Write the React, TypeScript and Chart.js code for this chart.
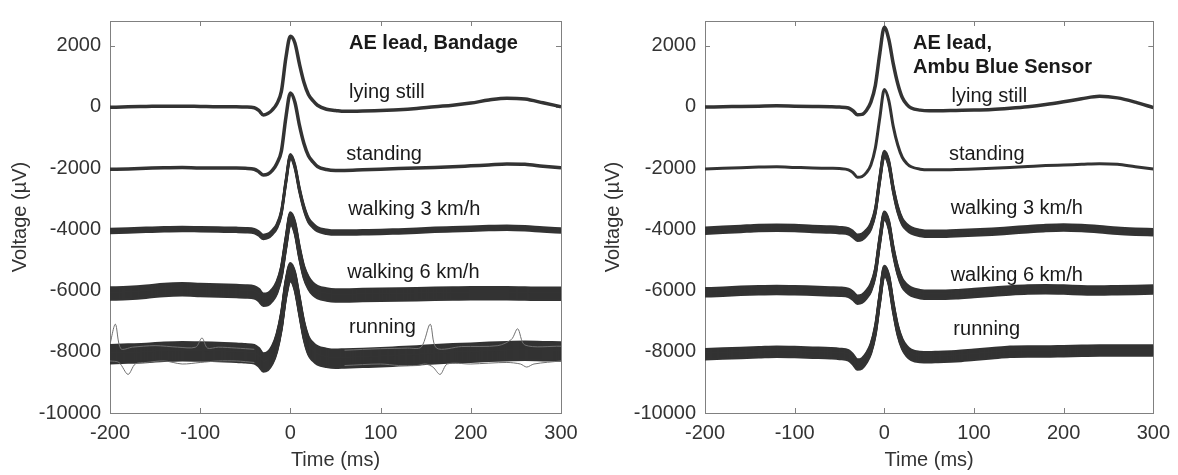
import React, { useEffect, useRef } from "react";
import { Chart, registerables } from "chart.js";

Chart.register(...registerables);

// ---------- data ----------
const TIMES = [-200, -180, -160, -140, -120, -100, -80, -60, -50, -40, -35, -30, -25, -20, -15, -10, -5, 0, 5, 10, 15, 20, 25, 30, 40, 50, 60, 80, 100, 120, 140, 160, 180, 200, 220, 240, 260, 280, 300];

const X_TICKS = [-200, -100, 0, 100, 200, 300];
const Y_TICKS = [-10000, -8000, -6000, -4000, -2000, 0, 2000];

const CONDITIONS = ["lying still", "standing", "walking 3 km/h", "walking 6 km/h", "running"];

// Bandage (left panel) averaged beats, µV
const bandageLying = [-20, 0, 10, 20, 20, 10, 0, 0, -10, -30, -120, -270, -220, -100, 100, 500, 1600, 2300, 2080, 1400, 800, 400, 200, 50, -80, -120, -150, -140, -120, -100, -60, 0, 50, 120, 220, 280, 250, 130, 0];
const bandageStanding = [-2040, -2030, -2010, -1990, -1980, -2000, -2000, -2000, -2010, -2040, -2120, -2230, -2200, -2080, -1850, -1450, -350, 450, 150, -600, -1200, -1600, -1800, -1950, -2050, -2080, -2080, -2060, -2040, -2020, -2000, -1980, -1960, -1930, -1900, -1870, -1880, -1940, -1990];
const bandageWalking3 = [-4060, -4040, -4020, -4000, -3990, -4000, -4010, -4020, -4030, -4060, -4140, -4250, -4220, -4100, -3900, -3450, -2450, -1620, -1950, -2700, -3300, -3700, -3880, -4000, -4080, -4110, -4110, -4100, -4090, -4070, -4050, -4020, -4000, -3980, -3960, -3950, -3970, -4010, -4040];
const bandageWalking6 = [-6100, -6080, -6040, -5980, -5960, -5980, -6000, -6020, -6030, -6060, -6150, -6300, -6280, -6150, -5900, -5400, -4450, -3650, -3950, -4750, -5400, -5750, -5950, -6050, -6130, -6160, -6160, -6150, -6140, -6130, -6120, -6110, -6100, -6090, -6090, -6090, -6100, -6110, -6110];
const bandageRunning = [-8080, -8060, -8040, -8000, -7980, -7990, -8010, -8030, -8050, -8080, -8180, -8350, -8300, -8100, -7700, -7000, -5950, -5400, -5700, -6500, -7300, -7800, -8000, -8120, -8200, -8230, -8220, -8200, -8180, -8150, -8120, -8080, -8050, -8030, -8000, -7980, -7970, -7980, -7990];

// single noisy running beats (left panel)
const runningOutlierHighT = [-200, -194, -188, -175, -150, -125, -105, -98, -92, -80, -60, -40, null, 60, 100, 130, 145, 155, 162, 190, 230, 245, 252, 260, 300];
const runningOutlierHighV = [-7750, -7100, -7900, -7850, -7800, -7850, -7850, -7550, -7880, -7850, -7880, -7920, null, -7950, -7900, -7880, -7850, -7100, -7880, -7830, -7800, -7600, -7250, -7780, -7820];
const runningOutlierLowT = [-200, -190, -180, -172, -160, -140, -120, -100, -80, -60, -40, null, 60, 100, 120, 140, 150, 158, 166, 174, 200, 240, 255, 262, 270, 300];
const runningOutlierLowV = [-8300, -8350, -8740, -8400, -8350, -8300, -8400, -8350, -8300, -8300, -8350, null, -8450, -8400, -8450, -8450, -8400, -8500, -8740, -8400, -8400, -8350, -8400, -8500, -8400, -8300];

// Ambu Blue Sensor (right panel) averaged beats, µV
const ambuLying = [-10, 0, 10, 20, 30, 20, 10, 0, -10, -40, -130, -260, -250, -120, 150, 700, 1750, 2600, 2200, 1400, 750, 300, 80, -40, -110, -130, -130, -120, -110, -90, -50, 0, 70, 160, 260, 340, 290, 150, -30];
const ambuStanding = [-2030, -2010, -1990, -1970, -1960, -1980, -2000, -2010, -2020, -2060, -2150, -2300, -2280, -2150, -1900, -1350, -350, 560, 200, -650, -1250, -1650, -1850, -1960, -2040, -2060, -2060, -2050, -2030, -2010, -1980, -1950, -1920, -1900, -1880, -1860, -1880, -1960, -2030];
const ambuWalking3 = [-4050, -4020, -3990, -3960, -3950, -3960, -3990, -4010, -4030, -4070, -4160, -4280, -4250, -4120, -3900, -3400, -2350, -1540, -1850, -2700, -3350, -3750, -3930, -4040, -4120, -4150, -4150, -4130, -4110, -4080, -4040, -4000, -3960, -3940, -3960, -4000, -4050, -4080, -4100];
const ambuWalking6 = [-6060, -6040, -6010, -5990, -5980, -5990, -6010, -6030, -6040, -6080, -6170, -6300, -6270, -6130, -5900, -5400, -4350, -3560, -3850, -4700, -5350, -5750, -5930, -6040, -6120, -6140, -6140, -6120, -6080, -6040, -6000, -5970, -5960, -5970, -5990, -6000, -5990, -5980, -5970];
const ambuRunning = [-8080, -8060, -8040, -8020, -8000, -8010, -8030, -8050, -8070, -8120, -8250, -8420, -8380, -8200, -7900, -7300, -6250, -5360, -5650, -6550, -7300, -7750, -7980, -8100, -8170, -8180, -8170, -8150, -8100, -8050, -8000, -7990, -7990, -7980, -7970, -7960, -7960, -7960, -7960];

// ---------- styling / layout ----------
const FONT = "'Liberation Sans', Arial, Helvetica, sans-serif";
const TEXT_COLOR = "#333333";
const TRACE_COLOR = "#333333";
const AXIS_COLOR = "#808080";

const toPoints = (t: (number | null)[], v: (number | null)[]) =>
  t.map((x, i) => ({ x: x as number, y: v[i] as number }));

type Label = { text: string; x: number; y: number; bold?: boolean };

type PanelCfg = {
  left: number;
  width: number;
  axisWidth: number;
  rightPad: number;
  titlePad: number;
  series: number[][];
  lineWidths: number[];
  bandHalfPx: number[];
  outliers: { t: (number | null)[]; v: (number | null)[] }[];
  labels: Label[];
};

const PANELS: PanelCfg[] = [
  {
    left: 0,
    width: 589,
    axisWidth: 110,
    rightPad: 28,
    titlePad: 8,
    series: [bandageLying, bandageStanding, bandageWalking3, bandageWalking6, bandageRunning],
    lineWidths: [3.5, 3.5, 2.5, 2.5, 2.5],
    bandHalfPx: [0, 0, 2, 6, 9],
    outliers: [
      { t: runningOutlierHighT, v: runningOutlierHighV },
      { t: runningOutlierLowT, v: runningOutlierLowV },
    ],
    labels: [
      { text: "AE lead, Bandage", x: 65, y: 2060, bold: true },
      { text: CONDITIONS[0], x: 65, y: 480 },
      { text: CONDITIONS[1], x: 62, y: -1570 },
      { text: CONDITIONS[2], x: 64, y: -3370 },
      { text: CONDITIONS[3], x: 63, y: -5420 },
      { text: CONDITIONS[4], x: 65, y: -7220 },
    ],
  },
  {
    left: 589,
    width: 589,
    axisWidth: 116,
    rightPad: 21,
    titlePad: 12,
    series: [ambuLying, ambuStanding, ambuWalking3, ambuWalking6, ambuRunning],
    lineWidths: [3.5, 3, 2.5, 2.5, 2.5],
    bandHalfPx: [0, 0, 3, 4, 5],
    outliers: [],
    labels: [
      { text: "AE lead,", x: 32, y: 2060, bold: true },
      { text: "Ambu Blue Sensor", x: 32, y: 1270, bold: true },
      { text: CONDITIONS[0], x: 75, y: 325 },
      { text: CONDITIONS[1], x: 72, y: -1570 },
      { text: CONDITIONS[2], x: 74, y: -3310 },
      { text: CONDITIONS[3], x: 74, y: -5520 },
      { text: CONDITIONS[4], x: 77, y: -7260 },
    ],
  },
];

const boxPlugin = {
  id: "boxTicks",
  beforeDatasetsDraw(chart: any) {
    const { ctx, chartArea: a, scales } = chart;
    const x = scales.x;
    const y = scales.y;
    ctx.save();
    ctx.strokeStyle = AXIS_COLOR;
    ctx.lineWidth = 1;
    ctx.strokeRect(Math.round(a.left) + 0.5, Math.round(a.top) + 0.5, Math.round(a.right - a.left), Math.round(a.bottom - a.top));
    const L = 5;
    ctx.beginPath();
    X_TICKS.forEach((v) => {
      const px = Math.round(x.getPixelForValue(v)) + 0.5;
      ctx.moveTo(px, a.bottom);
      ctx.lineTo(px, a.bottom - L);
      ctx.moveTo(px, a.top);
      ctx.lineTo(px, a.top + L);
    });
    Y_TICKS.forEach((v) => {
      const py = Math.round(y.getPixelForValue(v)) + 0.5;
      ctx.moveTo(a.left, py);
      ctx.lineTo(a.left + L, py);
      ctx.moveTo(a.right, py);
      ctx.lineTo(a.right - L, py);
    });
    ctx.stroke();
    ctx.restore();
  },
};

// Re-strokes a trace with small vertical shifts so it reads as a band of overlapping beats.
const bandPlugin = {
  id: "beatBand",
  afterDatasetDraw(chart: any, args: any) {
    const ds = chart.data.datasets[args.index];
    const h = ds.bandHalfPx || 0;
    if (!h) return;
    const { ctx, chartArea: a } = chart;
    ctx.save();
    ctx.beginPath();
    ctx.rect(a.left, a.top, a.right - a.left, a.bottom - a.top);
    ctx.clip();
    for (let dy = -h; dy <= h; dy += 1) {
      if (dy === 0) continue;
      ctx.save();
      ctx.translate(0, dy);
      args.meta.dataset.draw(ctx, a);
      ctx.restore();
    }
    ctx.restore();
  },
};

const labelPlugin = {
  id: "panelLabels",
  afterDraw(chart: any) {
    const labels: Label[] = chart.options.plugins.panelLabels.items;
    const { ctx, scales } = chart;
    ctx.save();
    ctx.fillStyle = "#1a1a1a";
    ctx.textBaseline = "middle";
    ctx.textAlign = "left";
    labels.forEach((l) => {
      ctx.font = `${l.bold ? "bold " : ""}20px ${FONT}`;
      ctx.fillText(l.text, scales.x.getPixelForValue(l.x), scales.y.getPixelForValue(l.y));
    });
    ctx.restore();
  },
};

function Panel({ cfg }: { cfg: PanelCfg }) {
  const ref = useRef<HTMLCanvasElement>(null);
  useEffect(() => {
    if (!ref.current) return;
    const datasets: any[] = [];
    cfg.outliers.forEach((o) => {
      datasets.push({
        data: toPoints(o.t, o.v),
        borderColor: "#707070",
        borderWidth: 1,
        pointRadius: 0,
        tension: 0.3,
        spanGaps: false,
      });
    });
    cfg.series.forEach((s, i) => {
      datasets.push({
        data: toPoints(TIMES, s),
        borderColor: TRACE_COLOR,
        borderWidth: cfg.lineWidths[i],
        bandHalfPx: cfg.bandHalfPx[i],
        pointRadius: 0,
        cubicInterpolationMode: "monotone",
        borderJoinStyle: "round",
        borderCapStyle: "butt",
      });
    });
    const tickFont = { family: FONT, size: 20 };
    const chart = new Chart(ref.current, {
      type: "line",
      data: { datasets },
      plugins: [boxPlugin, bandPlugin, labelPlugin],
      options: {
        animation: false,
        responsive: false,
        events: [],
        layout: { padding: { left: 0, right: cfg.rightPad, top: 8, bottom: 0 } },
        plugins: {
          legend: { display: false },
          tooltip: { enabled: false },
          panelLabels: { items: cfg.labels },
        } as any,
        scales: {
          x: {
            type: "linear",
            min: -200,
            max: 300,
            afterBuildTicks: (s: any) => {
              s.ticks = X_TICKS.map((v) => ({ value: v }));
            },
            afterFit: (s: any) => {
              s.height = 62;
            },
            grid: { display: false, drawTicks: false },
            border: { display: false },
            ticks: { font: tickFont, color: TEXT_COLOR, padding: 8, maxRotation: 0, autoSkip: false, callback: (v: any) => String(v) },
            title: { display: true, text: "Time (ms)", font: tickFont, color: TEXT_COLOR, padding: { top: 0, bottom: 3 } },
          },
          y: {
            type: "linear",
            min: -10000,
            max: 2800,
            afterBuildTicks: (s: any) => {
              s.ticks = Y_TICKS.map((v) => ({ value: v }));
            },
            afterFit: (s: any) => {
              s.width = cfg.axisWidth;
            },
            grid: { display: false, drawTicks: false },
            border: { display: false },
            ticks: { font: tickFont, color: TEXT_COLOR, padding: 9, autoSkip: false, callback: (v: any) => String(v) },
            title: { display: true, text: "Voltage (µV)", font: tickFont, color: TEXT_COLOR, padding: { top: cfg.titlePad, bottom: 0 } },
          },
        },
      } as any,
    });
    return () => chart.destroy();
  }, [cfg]);
  return (
    <canvas
      ref={ref}
      width={cfg.width}
      height={475}
      style={{ position: "absolute", left: cfg.left, top: 0, width: cfg.width, height: 475 }}
    />
  );
}

export default function App() {
  return (
    <div style={{ position: "fixed", left: 0, top: 0, width: 1178, height: 475, background: "#ffffff" }}>
      {PANELS.map((p, i) => (
        <Panel key={i} cfg={p} />
      ))}
    </div>
  );
}
